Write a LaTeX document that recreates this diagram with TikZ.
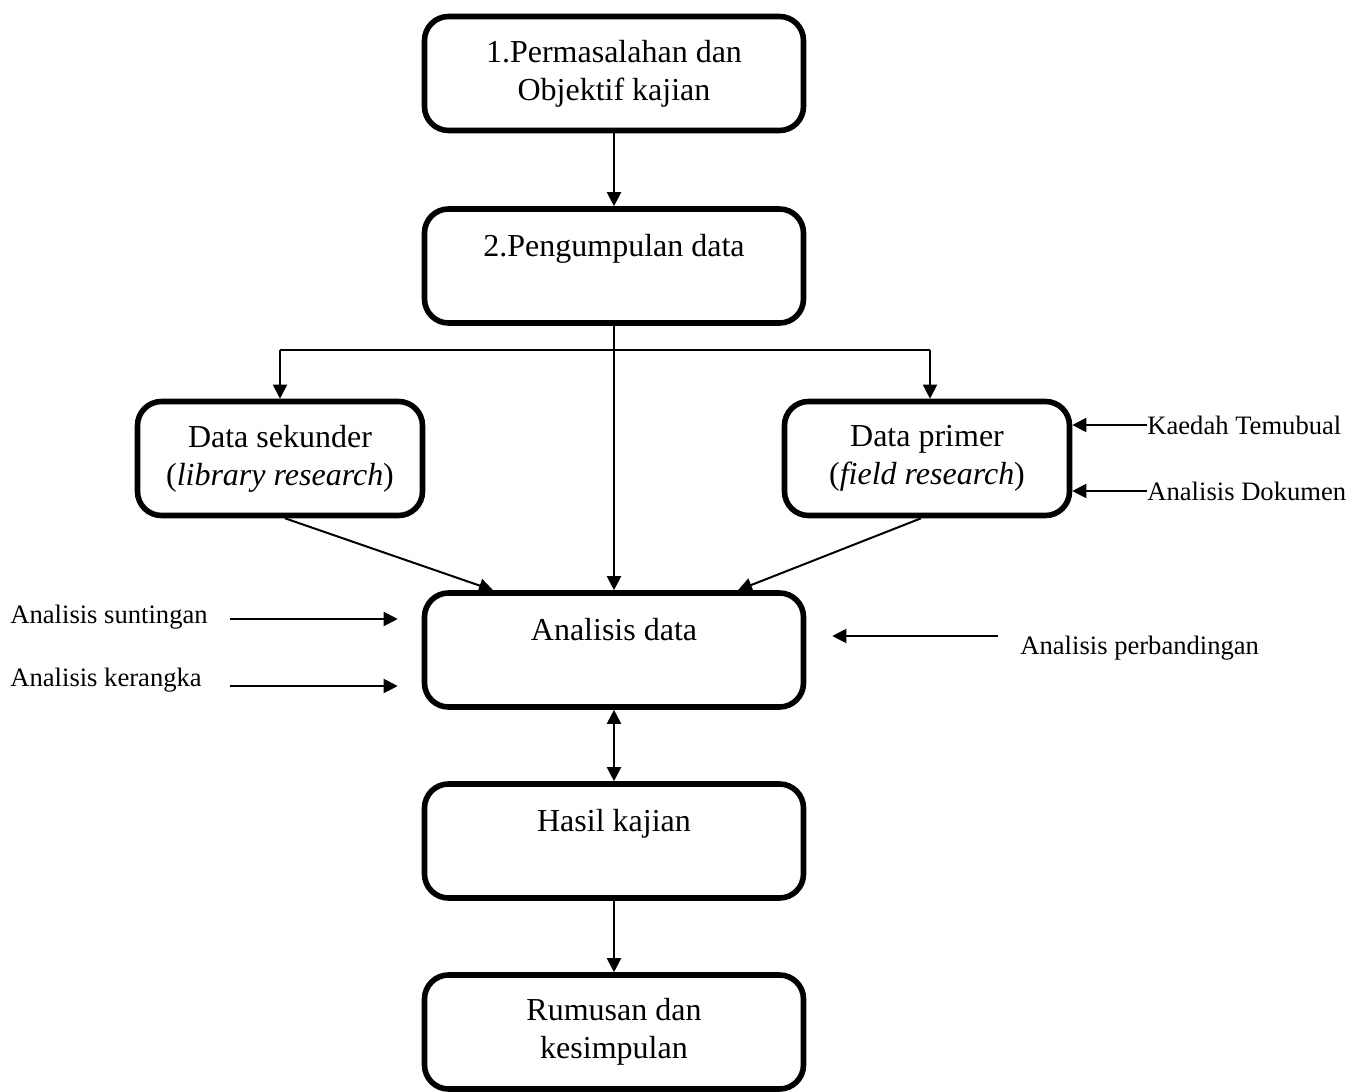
\documentclass[tikz,border=0pt]{standalone}
\usepackage{fontspec}
\setmainfont{Liberation Serif}
\usetikzlibrary{arrows.meta,calc}

\newcommand\boxfont{\fontsize{16}{19}\selectfont}
\newcommand\lblfont{\fontsize{13.3}{16}\selectfont}

\tikzset{
  stage/.style={draw, line width=2.8pt, rounded corners=12pt,
    minimum width=189.5pt, minimum height=57pt, align=center,
    font=\boxfont, inner sep=0pt},
  srcbox/.style={stage, minimum width=142.5pt},
  tip/.tip={Triangle[length=7pt,width=7pt]},
  arr/.style={-tip, line width=1pt},
  dblarr/.style={tip-tip, line width=1pt},
  plain/.style={line width=1pt},
  lbl/.style={font=\lblfont, inner sep=0pt}
}

\begin{document}
\begin{tikzpicture}[x=0.5pt, y=-0.5pt]
\useasboundingbox (0,0) rectangle (1362,1092);

% main stages
\node[stage] (obj) at (614,73.5) {1.Permasalahan dan\\Objektif kajian};
\node[stage] (kump) at (614,266) {2.Pengumpulan data\\[-4pt]\strut};
\node[srcbox] (sek) at (280,458.5) {Data sekunder\\(\textit{library research})};
\node[srcbox] (pri) at (927,458.5) {Data primer\\(\textit{field research})};
\node[stage] (ana) at (614,650) {Analisis data\\[-4pt]\strut};
\node[stage] (has) at (614,841) {Hasil kajian\\[-4pt]\strut};
\node[stage] (rum) at (614,1032) {Rumusan dan\\kesimpulan};

% method labels
\node[lbl, anchor=west] (tem) at (1147,425) {Kaedah Temubual};
\node[lbl, anchor=west] (dok) at (1147,491) {Analisis Dokumen};
\node[lbl, anchor=west] (sun) at (10,617) {Analisis suntingan};
\node[lbl, anchor=west] (ker) at (10,680) {Analisis kerangka};
\node[lbl, anchor=west] (per) at (1020,648) {Analisis perbandingan};

% main flow
\draw[arr] (obj) -- (kump);
\draw[arr] (kump) -- (ana);
\draw[dblarr] (ana) -- (has);
\draw[arr] (has) -- (rum);

% branch to the two data sources
\coordinate (bl) at (280,350);
\coordinate (br) at (930,350);
\draw[plain] (bl) -- (br);
\draw[arr] (bl) -- (sek);
\draw[arr] (br) -- (br |- pri.north);

% data sources into analysis
\draw[arr] ([xshift=2.5pt]sek.south) -- ([xshift=-60.5pt]ana.north);
\draw[arr] ([xshift=-3pt]pri.south) -- ([xshift=62pt]ana.north);

% methods into primary data
\draw[arr] (tem.west) -- (tem.west -| pri.east);
\draw[arr] (dok.west) -- (dok.west -| pri.east);

% methods into analysis
\draw[arr] ($(sun.east)+(11pt,-1pt)$) -- ($(ana.west |- sun.east)+(-12pt,-1pt)$);
\draw[arr] ($(ker.east)+(14pt,-3pt)$) -- ($(ana.west |- ker.east)+(-12pt,-3pt)$);
\draw[arr] ($(per.west)+(-11pt,6pt)$) -- ($(ana.east |- per.west)+(13pt,6pt)$);
\end{tikzpicture}
\end{document}
